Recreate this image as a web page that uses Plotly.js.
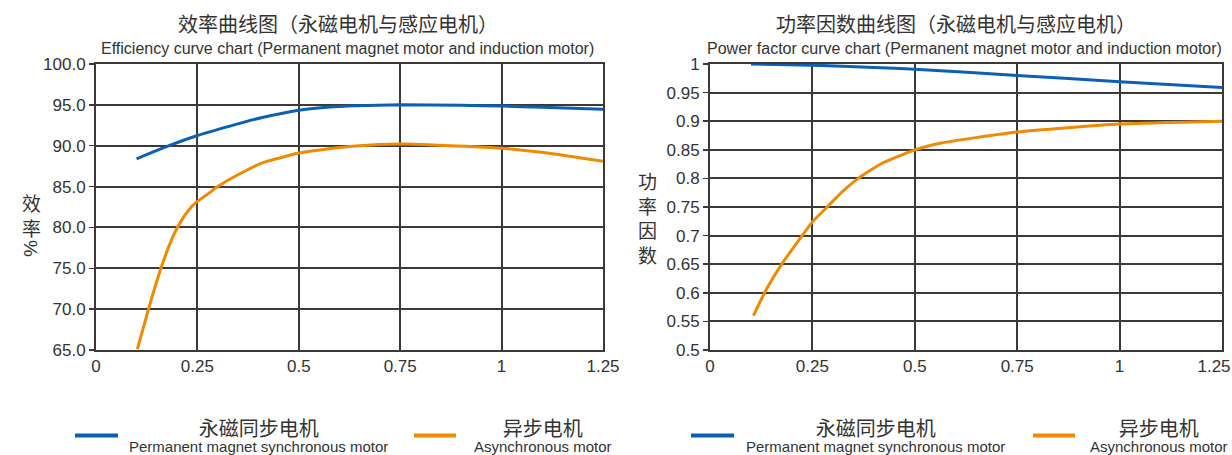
<!DOCTYPE html>
<html>
<head>
<meta charset="utf-8">
<script src="https://cdn.plot.ly/plotly-3.0.1.min.js"></script>
<style>html,body{margin:0;padding:0;background:#fff;}#chart{width:1232px;height:455px;}</style>
</head>
<body>
<div id="chart"></div>
<script>
// Efficiency chart (load factor vs efficiency %)
const effPmX = [0.1, 0.18, 0.25, 0.33, 0.41, 0.5, 0.57, 0.64, 0.75, 0.9, 1.0, 1.1, 1.25];
const effPmY = [88.4, 90.0, 91.25, 92.4, 93.45, 94.35, 94.7, 94.88, 95.0, 94.95, 94.85, 94.7, 94.45];
const effAsX = [0.102, 0.13, 0.16, 0.19, 0.21, 0.225, 0.245, 0.276, 0.30, 0.35, 0.41, 0.5, 0.57, 0.64, 0.75, 0.83, 1.0, 1.13, 1.25];
const effAsY = [65.1, 70.1, 75.0, 78.9, 80.8, 81.9, 83.0, 84.1, 85.0, 86.45, 87.9, 89.1, 89.6, 89.95, 90.2, 90.1, 89.7, 89.0, 88.1];
// Power factor chart
const pfPmX = [0.1, 0.25, 0.4, 0.5, 0.75, 1.0, 1.25];
const pfPmY = [1.0, 0.998, 0.994, 0.991, 0.98, 0.969, 0.959];
const pfAsX = [0.106, 0.136, 0.175, 0.225, 0.25, 0.286, 0.322, 0.362, 0.419, 0.5, 0.565, 0.75, 1.0, 1.25];
const pfAsY = [0.56, 0.604, 0.65, 0.70, 0.724, 0.75, 0.776, 0.80, 0.826, 0.85, 0.862, 0.881, 0.895, 0.90];

const xTickVals = [0, 0.25, 0.5, 0.75, 1, 1.25];
const xTickText = ["0", "0.25", "0.5", "0.75", "1", "1.25"];

const titleCn = ["效率曲线图（永磁电机与感应电机）", "功率因数曲线图（永磁电机与感应电机）"];
const titleEn = ["Efficiency curve chart (Permanent magnet motor and induction motor)",
                 "Power factor curve chart (Permanent magnet motor and induction motor)"];
const yTitles = [["效<br>率", "%"], ["功<br>率<br>因<br>数"]];
const seriesCn = ["永磁同步电机", "异步电机"];
const seriesEn = ["Permanent magnet synchronous motor", "Asynchronous motor"];

const BLUE = "#0b5fb4", ORANGE = "#f08a00", GRID = "#3e3837", TXT = "#333333";
const CJK = "Noto Sans CJK SC, sans-serif";
const LAT = "Liberation Sans, Arial, sans-serif";
const W = 1232, H = 455;
const px = x => x / W, py = y => (H - y) / H;

const traces = [
  {x: effPmX, y: effPmY, xaxis: "x", yaxis: "y", mode: "lines", line: {color: BLUE, width: 3, shape: "spline", smoothing: 0.5}, name: seriesCn[0]},
  {x: effAsX, y: effAsY, xaxis: "x", yaxis: "y", mode: "lines", line: {color: ORANGE, width: 3, shape: "spline", smoothing: 0.4}, name: seriesCn[1]},
  {x: pfAsX, y: pfAsY, xaxis: "x2", yaxis: "y2", mode: "lines", line: {color: ORANGE, width: 3, shape: "spline", smoothing: 0.5}, name: seriesCn[1]},
  // drawn on the overlay axis x3 (identical scale to x2)
  {x: pfPmX, y: pfPmY, xaxis: "x3", yaxis: "y2", mode: "lines", line: {color: BLUE, width: 3, shape: "spline", smoothing: 0.5}, name: seriesCn[0]}
];

const tickFont = {family: LAT, size: 17, color: TXT};
const axBase = {
  showgrid: true, gridcolor: GRID, gridwidth: 2,
  showline: true, linecolor: GRID, linewidth: 2, mirror: true,
  zeroline: false, tickfont: tickFont
};
const last = xTickVals.length - 1;
const xBase = Object.assign({}, axBase, {range: [0, 1.25], tickmode: "array", ticks: ""});
const yBase = Object.assign({}, axBase, {ticks: "outside", ticklen: 5, tickcolor: GRID, tickwidth: 1.5});

const annotations = [];
function ann(text, x, y, size, family, extra) {
  annotations.push(Object.assign({text, xref: "paper", yref: "paper", x: px(x), y: py(y),
    xanchor: "center", yanchor: "middle", showarrow: false,
    font: {family, size, color: TXT}}, extra || {}));
}
ann(titleCn[0], 338, 23, 20, CJK);
ann(titleEn[0], 347, 49, 16, LAT);
ann(titleCn[1], 956, 23, 20, CJK);
ann(titleEn[1], 964, 49, 16, LAT);
ann(yTitles[0][0], 31, 215, 19, CJK);
ann(yTitles[0][1], 31, 248, 19, LAT, {textangle: 90});
ann(yTitles[1][0], 647, 218, 19, CJK);

// [blue swatch x, blue text center, orange swatch x, orange text center]
const legendPos = [[75, 258, 414, 543], [691, 875, 1033, 1159]];
const shapes = [];
function legendText(cn, en) {
  return '<span style="font-family:Noto Sans CJK SC;font-size:20px">' + cn + '</span><br>' +
         '<span style="font-size:15px">' + en + '</span>';
}
legendPos.forEach(p => {
  shapes.push({type: "line", xref: "paper", yref: "paper", x0: px(p[0]), x1: px(p[0] + 43), y0: py(435.5), y1: py(435.5), line: {color: BLUE, width: 4}});
  shapes.push({type: "line", xref: "paper", yref: "paper", x0: px(p[2]), x1: px(p[2] + 42), y0: py(435.5), y1: py(435.5), line: {color: ORANGE, width: 4}});
  ann(legendText(seriesCn[0], seriesEn[0]), p[1], 434, 12, LAT);
  ann(legendText(seriesCn[1], seriesEn[1]), p[3], 434, 12, LAT);
});

const layout = {
  width: W, height: H, autosize: false,
  margin: {l: 0, r: 0, t: 0, b: 0, pad: 0},
  paper_bgcolor: "#fff", plot_bgcolor: "#fff",
  showlegend: false,
  xaxis: Object.assign({}, xBase, {tickvals: xTickVals, ticktext: xTickText, ticklabeloverflow: "allow", domain: [px(96), px(603)], anchor: "y"}),
  yaxis: Object.assign({}, yBase, {domain: [py(350), py(64)], range: [65, 100], dtick: 5, tick0: 65, tickformat: ".1f", anchor: "x"}),
  // right chart: all ticks/grid except the last label
  xaxis2: Object.assign({}, xBase, {tickvals: xTickVals, ticktext: xTickText.map((t, i) => i === last ? "" : t), domain: [px(710), px(1222)], anchor: "y2"}),
  // overlay axis carrying the last label, pulled inside the page as in the reference
  xaxis3: Object.assign({}, xBase, {tickvals: [xTickVals[last]], ticktext: [xTickText[last]],
    tickfont: {family: LAT, size: 17, color: TXT}, ticklabelshift: -8, ticklabelstandoff: 4,
    showgrid: false, showline: false, overlaying: "x2", anchor: "y2", side: "bottom", domain: [px(710), px(1222)]}),
  yaxis2: Object.assign({}, yBase, {domain: [py(350), py(64)], range: [0.5, 1], dtick: 0.05, tick0: 0.5, anchor: "x2"}),
  annotations, shapes
};
Plotly.newPlot("chart", traces, layout, {staticPlot: true, displayModeBar: false});
</script>
</body>
</html>
